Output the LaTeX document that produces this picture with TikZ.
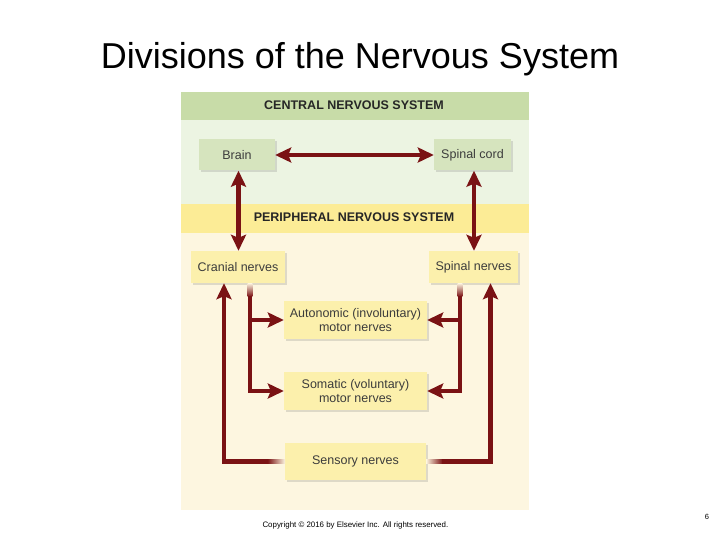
\documentclass[tikz,border=0pt]{standalone}
\usepackage{fontspec}
\setmainfont{Liberation Sans}
\usetikzlibrary{arrows.meta,shadows}
\definecolor{nervered}{RGB}{122,18,20}
\definecolor{cnsband}{RGB}{200,220,168}
\definecolor{cnsfill}{RGB}{236,244,226}
\definecolor{cnsbox}{RGB}{214,228,190}
\definecolor{pnsband}{RGB}{252,236,150}
\definecolor{pnsfill}{RGB}{253,246,224}
\definecolor{pnsbox}{RGB}{252,240,172}
\definecolor{boxtext}{RGB}{60,60,60}
\tikzset{
  box/.style={inner sep=0pt,text=boxtext,align=center,font=\fontsize{12.5}{14}\selectfont,
    drop shadow={shadow xshift=2pt,shadow yshift=-2pt,opacity=0.2,fill=black!60}},
  cnsnode/.style={box,fill=cnsbox},
  pnsnode/.style={box,fill=pnsbox},
  nerve/.style={draw=nervered,line width=4.8pt},
  nervetip/.style={nerve,-{Stealth[length=16pt,width=15pt,inset=3pt]}},
  nervetwo/.style={nerve,{Stealth[length=16pt,width=15pt,inset=3pt]}-{Stealth[length=16pt,width=15pt,inset=3pt]}},
  header/.style={font=\bfseries\fontsize{12.5}{14}\selectfont,text=black!85}
}
\begin{document}
\begin{tikzpicture}[x=1pt,y=-1pt]
    \useasboundingbox (0,0) rectangle (720,540);
    \fill[cnsband] (180.5,92) rectangle (528.5,120.5);
    \fill[cnsfill] (180.5,120.5) rectangle (528.5,204);
    \fill[pnsband] (180.5,204) rectangle (528.5,233);
    \fill[pnsfill] (180.5,233) rectangle (528.5,510);
    \node[font=\fontsize{36}{40}\selectfont] (title) at (360,59.5) {Divisions of the Nervous System};
    \node[header] (cnshead) at (354,105.5) {CENTRAL NERVOUS SYSTEM};
    \node[header] (pnshead) at (354,217.5) {PERIPHERAL NERVOUS SYSTEM};
    \node[cnsnode,minimum width=76pt,minimum height=31pt] (brain) at (237,155) {Brain};
    \node[cnsnode,minimum width=77pt,minimum height=31pt] (cord) at (472.5,155) {Spinal cord};
    \node[pnsnode,minimum width=94pt,minimum height=32pt] (cranial) at (238,267) {Cranial nerves};
    \node[pnsnode,minimum width=89pt,minimum height=32pt] (spinal) at (473.5,267) {Spinal nerves};
    \node[pnsnode,minimum width=143pt,minimum height=38pt] (autonomic) at (355.5,320) {Autonomic (involuntary)\\motor nerves};
    \node[pnsnode,minimum width=143pt,minimum height=38pt] (somatic) at (355.5,391) {Somatic (voluntary)\\motor nerves};
    \node[pnsnode,minimum width=141pt,minimum height=37pt] (sensory) at (355.5,461.5) {Sensory nerves};
    \draw[nervetwo] (brain.east) -- (cord.west);
    \draw[nervetwo] ([xshift=1.5pt]brain.south) -- ([xshift=0.5pt]cranial.north);
    \draw[nervetwo] ([xshift=1.5pt]cord.south) -- ([xshift=0.5pt]spinal.north);
    \coordinate (lefttop) at (250,296);
    \coordinate (righttop) at (460,296);
    \shade[top color=pnsfill,bottom color=nervered] (247.6,283) rectangle (252.4,296.5);
    \shade[top color=pnsfill,bottom color=nervered] (457.6,283) rectangle (462.4,296.5);
    \draw[nervetip] (lefttop) |- (somatic.west);
    \draw[nervetip] (lefttop |- autonomic.west) -- (autonomic.west);
    \draw[nervetip] (righttop) |- (somatic.east);
    \draw[nervetip] (righttop |- autonomic.east) -- (autonomic.east);
    \coordinate (sensleft) at (268,461.5);
    \coordinate (sensright) at (442,461.5);
    \shade[left color=nervered,right color=pnsfill] (267.5,459.1) rectangle (285,463.9);
    \shade[left color=pnsfill,right color=nervered] (426,459.1) rectangle (442.5,463.9);
    \draw[nervetip] (sensleft) -| ([xshift=-14pt]cranial.south);
    \draw[nervetip] (sensright) -| ([xshift=17pt]spinal.south);
    \node[font=\fontsize{7.9}{9}\selectfont,anchor=west] (copyright) at (259,525.5) {Copyright © 2016 by Elsevier Inc. All rights reserved.};
    \node[font=\fontsize{7.5}{9}\selectfont] (pagenum) at (707,517) {6};
\end{tikzpicture}
\end{document}
